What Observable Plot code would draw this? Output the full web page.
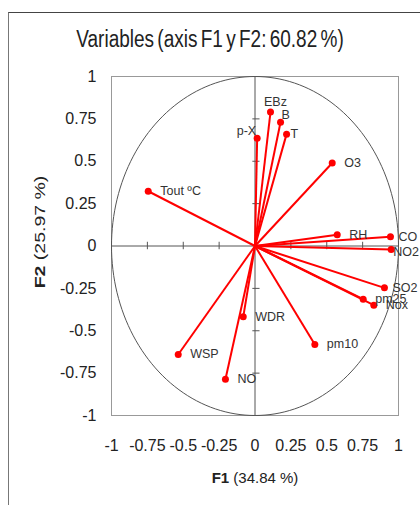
<!DOCTYPE html>
<html>
<head>
<meta charset="utf-8">
<script src="https://cdn.jsdelivr.net/npm/d3@7"></script>
<script src="https://cdn.jsdelivr.net/npm/@observablehq/plot@0.6"></script>
<style>
  html, body { margin: 0; padding: 0; background: #fff; }
  #wrap { position: relative; width: 420px; height: 505px; overflow: hidden; background: #fff; font-family: "Liberation Sans", Arial, sans-serif; }
  #outer { position: absolute; left: 8px; top: 12px; width: 440px; height: 520px; border-left: 1.5px solid #777; border-top: 1.5px solid #444; box-sizing: border-box; }
  #title { position: absolute; left: 0; top: 29px; width: 420px; text-align: center; font-size: 19px; line-height: 22px; word-spacing: -2px; color: #222; transform: scaleY(1.22); transform-origin: 50% 50%; }
  #chart { position: absolute; left: 0; top: 60px; }
</style>
</head>
<body>
<div id="wrap">
  <div id="outer"></div>
  <div id="title">Variables (axis F1 y F2: 60.82 %)</div>
  <div id="chart"></div>
</div>
<script>
// ---- data ----
const varNames = ["EBz", "B", "T", "p-X", "O3", "RH", "CO", "NO2", "SO2", "pm25", "Nox", "WDR", "pm10", "Tout ºC", "WSP", "NO"];
const f1Values = [0.108, 0.178, 0.22, 0.015, 0.538, 0.573, 0.944, 0.949, 0.902, 0.754, 0.828, -0.082, 0.417, -0.744, -0.535, -0.206];
const f2Values = [0.79, 0.73, 0.66, 0.636, 0.49, 0.066, 0.054, -0.021, -0.247, -0.314, -0.349, -0.418, -0.581, 0.323, -0.64, -0.786];
const tickValues = [-1, -0.75, -0.5, -0.25, 0, 0.25, 0.5, 0.75, 1];
const tickLabels = ["-1", "-0.75", "-0.5", "-0.25", "0", "0.25", "0.5", "0.75", "1"];
const xTitleBold = "F1";
const xTitleRest = " (34.84 %)";
const yTitleBold = "F2";
const yTitleRest = " (25.97 %)";

// ---- label placement (style) ----
const defaultLabel = {anchor: "start", dx: 12, dy: 0};
const labelOffsets = {
  "EBz": {anchor: "middle", dx: 5, dy: -10},
  "B": {anchor: "start", dx: 1, dy: -7},
  "T": {anchor: "start", dx: 4, dy: 0},
  "p-X": {anchor: "end", dx: -1, dy: -7},
  "CO": {anchor: "start", dx: 8, dy: 0},
  "NO2": {anchor: "start", dx: 2, dy: 2},
  "SO2": {anchor: "start", dx: 8, dy: 0}
};

const data = varNames.map((name, i) => ({name, f1: f1Values[i], f2: f2Values[i]}));
const circle = d3.range(0, 361, 2).map(a => ({cx: Math.cos(a * Math.PI / 180), cy: Math.sin(a * Math.PI / 180)}));
const innerTicks = tickValues.filter(v => v !== 0);

const labelGroups = [];
const defaults = data.filter(d => !labelOffsets[d.name]);
labelGroups.push(Plot.text(defaults, {x: "f1", y: "f2", text: "name", textAnchor: defaultLabel.anchor, dx: defaultLabel.dx, dy: defaultLabel.dy, fontSize: 12.5, fill: "#333"}));
for (const [name, o] of Object.entries(labelOffsets)) {
  labelGroups.push(Plot.text(data.filter(d => d.name === name), {x: "f1", y: "f2", text: "name", textAnchor: o.anchor, dx: o.dx, dy: o.dy, fontSize: 12.5, fill: "#333"}));
}

const chart = Plot.plot({
  width: 420,
  height: 445,
  marginTop: 16,
  marginBottom: 90,
  marginLeft: 111,
  marginRight: 22,
  style: {fontFamily: "'Liberation Sans', Arial, sans-serif", fontSize: "16px", color: "#222", background: "transparent"},
  x: {domain: [-1, 1], ticks: tickValues, tickFormat: d => tickLabels[tickValues.indexOf(d)], tickSize: 0, tickPadding: 24, label: null},
  y: {domain: [-1, 1], ticks: tickValues, tickFormat: d => tickLabels[tickValues.indexOf(d)], tickSize: 0, tickPadding: 15, label: null},
  marks: [
    Plot.frame({stroke: "#999"}),
    Plot.line(circle, {x: "cx", y: "cy", stroke: "#555", strokeWidth: 1}),
    Plot.ruleX([0], {stroke: "#555", strokeWidth: 1}),
    Plot.ruleY([0], {stroke: "#555", strokeWidth: 1}),
    Plot.ruleX(innerTicks, {x: d => d, y1: -0.022, y2: 0.022, stroke: "#555", strokeWidth: 1}),
    Plot.ruleY(innerTicks, {y: d => d, x1: -0.015, x2: 0.035, stroke: "#555", strokeWidth: 1}),
    Plot.link(data, {x1: 0, y1: 0, x2: "f1", y2: "f2", stroke: "#ff0000", strokeWidth: 2}),
    Plot.dot(data, {x: "f1", y: "f2", r: 3.5, fill: "#ff0000", stroke: "none"}),
    ...labelGroups,
    Plot.text([xTitleBold + xTitleRest], {frameAnchor: "bottom", textAnchor: "middle", dy: 67, fontSize: 15, fill: "#222", className: "xtitle"}),
    Plot.text([yTitleBold + yTitleRest], {frameAnchor: "left", textAnchor: "middle", dx: -71, dy: -14, rotate: -90, fontSize: 15, fill: "#222", className: "ytitle"})
  ]
});
document.getElementById("chart").appendChild(chart);

// bold axis-name parts
const svg = d3.select(chart.tagName === "svg" ? chart : chart.querySelector("svg"));
svg.selectAll(".xtitle text").each(function() {
  const t = d3.select(this).text(null);
  t.append("tspan").attr("font-weight", "bold").text(xTitleBold);
  t.append("tspan").text(xTitleRest);
});
svg.selectAll(".ytitle text").each(function() {
  const t = d3.select(this).text(null);
  t.append("tspan").attr("font-weight", "bold").text(yTitleBold);
  t.append("tspan").text(yTitleRest);
  const tr = t.attr("transform") || "";
  t.attr("transform", tr + " scale(1.3,1)");
});
</script>
</body>
</html>
